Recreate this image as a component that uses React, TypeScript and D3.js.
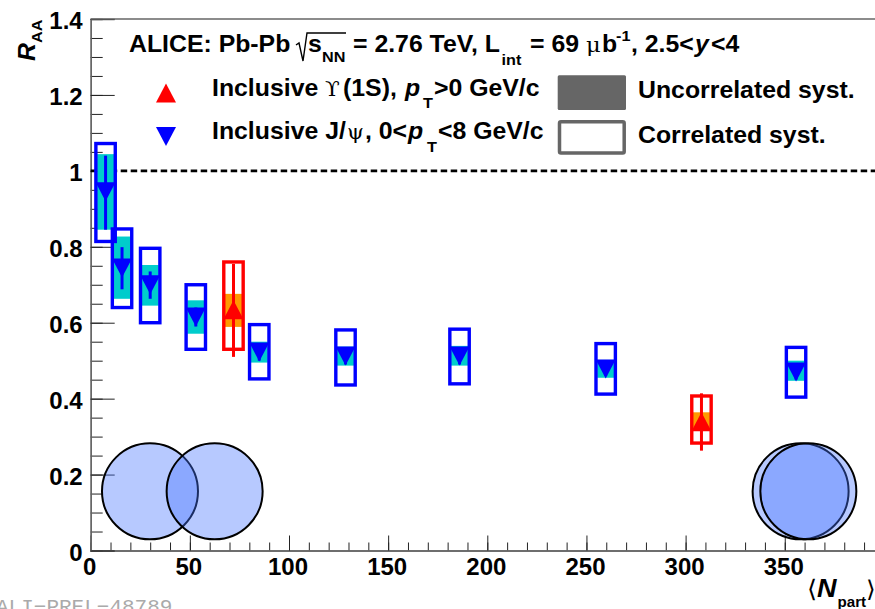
import React, { useEffect, useRef } from "react";
import * as d3 from "d3";

const width = 875;
const height = 609;

const jpsiNpart = [7.5, 15.8, 30, 53, 85, 128.5, 186, 259.7, 355.7];
const jpsiRaa = [0.945, 0.744, 0.7, 0.615, 0.523, 0.512, 0.512, 0.478, 0.47];
const jpsiErrLow = [0.845, 0.688, 0.663, 0.59, 0.5, 0.49, 0.49, 0.46, 0.45];
const jpsiErrHigh = [1.04, 0.799, 0.735, 0.64, 0.545, 0.535, 0.535, 0.5, 0.49];
const jpsiUncorrLow = [0.845, 0.663, 0.645, 0.571, 0.495, 0.487, 0.487, 0.455, 0.447];
const jpsiUncorrHigh = [1.044, 0.827, 0.752, 0.659, 0.55, 0.537, 0.539, 0.502, 0.5];
const jpsiCorrLow = [0.814, 0.64, 0.6, 0.53, 0.452, 0.436, 0.439, 0.412, 0.404];
const jpsiCorrHigh = [1.072, 0.847, 0.796, 0.7, 0.595, 0.581, 0.583, 0.545, 0.535];

const upsNpart = [72, 308];
const upsRaa = [0.634, 0.339];
const upsErrLow = [0.51, 0.263];
const upsErrHigh = [0.755, 0.414];
const upsUncorrLow = [0.589, 0.317];
const upsUncorrHigh = [0.676, 0.364];
const upsCorrLow = [0.53, 0.283];
const upsCorrHigh = [0.76, 0.407];

// the little nuclei drawn in the corners, in axis units
const nucleiX = [29.9, 62.5, 358, 361.9];
const nucleiY = 0.156;

const x = d3.scaleLinear().domain([0, 400]).range([90.7, 883.9]);
const y = d3.scaleLinear().domain([0, 1.4]).range([550.5, 19]);

const sans = "'Liberation Sans', Arial, sans-serif";
const serif = "'DejaVu Serif', 'Liberation Serif', serif";

// the reference type is a bit wider than Liberation at this height
const T = ({ at, base, size = 23, it, font = sans, weight = "bold", children }: any) => (
  <text transform={`translate(${at},${base}) scale(1.08,1)`} fontSize={size} fontStyle={it ? "italic" : "normal"} fontFamily={font} fontWeight={weight} fill="#000">
    {children}
  </text>
);

// ROOT style triangle, centred on its box rather than its centroid
const triangleType = {
  draw(ctx: any) {
    ctx.moveTo(0, -9.5);
    ctx.lineTo(10, 9.5);
    ctx.lineTo(-10, 9.5);
    ctx.closePath();
  },
};
const triangle = d3.symbol().type(triangleType as any);
const Marker = ({ cx, cy, down, color }: any) => (
  <path d={triangle() as string} transform={`translate(${cx},${cy}) ${down ? "rotate(180)" : ""}`} fill={color} />
);

function Series({ np, raa, lo, hi, uLo, uHi, cLo, cHi, box, fill, down }: any) {
  return (
    <g>
      {np.map((d: number, i: number) => (
        <rect key={i} x={x(d) - 8.5} width={17} y={y(uHi[i])} height={y(uLo[i]) - y(uHi[i])} fill={fill} />
      ))}
      {np.map((d: number, i: number) => (
        <line key={i} x1={x(d)} x2={x(d)} y1={y(lo[i])} y2={y(hi[i])} stroke={box} strokeWidth={3} />
      ))}
      {np.map((d: number, i: number) => (
        <Marker key={i} cx={x(d)} cy={y(raa[i])} down={down} color={box} />
      ))}
      {np.map((d: number, i: number) => (
        <rect key={i} x={x(d) - 9.7} width={19.4} y={y(cHi[i])} height={y(cLo[i]) - y(cHi[i])} fill="none" stroke={box} strokeWidth={3.4} />
      ))}
    </g>
  );
}

export default function App() {
  const axesRef = useRef<SVGGElement>(null);

  useEffect(() => {
    const g = d3.select(axesRef.current);
    g.selectAll("*").remove();

    const xMinor = d3.axisBottom(x).ticks(40).tickSize(-8).tickFormat(() => "");
    const xMajor = d3.axisBottom(x).tickValues(d3.range(0, 351, 50)).tickSize(-15).tickFormat(d3.format("d") as any).tickPadding(7);
    const yMinor = d3.axisLeft(y).tickValues(d3.range(0, 1.401, 0.05)).tickSize(-12).tickFormat(() => "");
    const yMajor = d3.axisLeft(y).tickValues(d3.range(0, 1.401, 0.2)).tickSize(-24).tickFormat(d3.format("~g") as any).tickPadding(8);

    const bottom = g.append("g").attr("transform", `translate(0,${y(0)})`);
    bottom.append("g").call(xMinor);
    const xLabels = bottom.append("g").call(xMajor);
    const left = g.append("g").attr("transform", `translate(${x(0)},0)`);
    left.append("g").call(yMinor);
    const yLabels = left.append("g").call(yMajor);

    g.append("line").attr("x1", x(0)).attr("x2", width).attr("y1", y(1.4)).attr("y2", y(1.4));
    g.selectAll(".domain").attr("stroke", "#666").attr("stroke-width", 1.4);
    g.selectAll("g.tick line").attr("stroke", "#222").attr("stroke-width", 1);
    g.selectAll(":scope > line").attr("stroke", "#666").attr("stroke-width", 1.4);
    g.selectAll("text")
      .attr("font-family", sans)
      .attr("font-size", 24)
      .attr("font-weight", "bold")
      .attr("fill", "#000");
    xLabels.selectAll("text").attr("dx", -1.5);
    yLabels.selectAll("text").attr("dy", "0.4em");
  }, []);

  return (
    <svg width={width} height={height} style={{ position: "absolute", left: 0, top: 0, background: "#fff" }}>
      <g ref={axesRef} />

      <line x1={x(0)} x2={width} y1={y(1)} y2={y(1)} stroke="#000" strokeWidth={2.8} strokeDasharray="6.5 3.5" />

      {nucleiX.map((d, i) => (
        <circle key={i} cx={x(d)} cy={y(nucleiY)} r={48} fill="rgb(70,117,255)" fillOpacity={0.39} stroke="#000" strokeWidth={2} />
      ))}

      <Series np={jpsiNpart} raa={jpsiRaa} lo={jpsiErrLow} hi={jpsiErrHigh} uLo={jpsiUncorrLow} uHi={jpsiUncorrHigh} cLo={jpsiCorrLow} cHi={jpsiCorrHigh} box="#0000ff" fill="#00cccc" down />
      <Series np={upsNpart} raa={upsRaa} lo={upsErrLow} hi={upsErrHigh} uLo={upsUncorrLow} uHi={upsUncorrHigh} cLo={upsCorrLow} cHi={upsCorrHigh} box="#ff0000" fill="#ff9900" />

      {/* header line */}
      <T at={129} base={51.5}>ALICE: Pb-Pb</T>
      <path d="M296 45 L299 43 L303 61 L307 33 L346 33" fill="none" stroke="#000" strokeWidth={1.4} />
      <T at={308} base={51.5}>s</T>
      <T at={322} base={61.5} size={15}>NN</T>
      <T at={353} base={51.5}>= 2.76 TeV, L</T>
      <T at={501.5} base={65} size={15}>int</T>
      <T at={530} base={51.5}>= 69</T>
      <T at={586} base={51.5} font={serif} weight="normal" size={21}>μ</T>
      <T at={602} base={51.5}>b</T>
      <T at={616} base={41} size={15}>-1</T>
      <T at={631} base={51.5}>, 2.5&lt;</T>
      <T at={695} base={51.5} it>y</T>
      <T at={711} base={51.5}>&lt;4</T>

      {/* legend */}
      <Marker cx={166} cy={93} color="#ff0000" />
      <Marker cx={166} cy={136.5} down color="#0000ff" />
      <T at={212} base={95.5}>Inclusive</T>
      <T at={325} base={95.5} font={serif} weight="normal" size={20}>ϒ</T>
      <T at={343} base={95.5}>(1S),</T>
      <T at={405} base={95.5} it>p</T>
      <T at={423} base={108} size={15}>T</T>
      <T at={434} base={95.5}>&gt;0 GeV/c</T>
      <T at={212} base={138.5}>Inclusive J/</T>
      <T at={347} base={138.5} font={serif} weight="normal" size={20}>ψ</T>
      <T at={365} base={138.5}>, 0&lt;</T>
      <T at={408} base={138.5} it>p</T>
      <T at={427} base={152} size={15}>T</T>
      <T at={438} base={138.5}>&lt;8 GeV/c</T>

      <rect x={557.7} y={75.3} width={68.3} height={34.7} rx={1.5} fill="#666" />
      <rect x={559.5} y={121.8} width={64.7} height={31.1} rx={1.5} fill="#fff" stroke="#666" strokeWidth={3.5} />
      <T at={638} base={98}>Uncorrelated syst.</T>
      <T at={638} base={142.5}>Correlated syst.</T>

      {/* axis titles */}
      <g transform="translate(35,61) rotate(-90)">
        <T at={0} base={0} it>R</T>
      </g>
      <g transform="translate(42,43) rotate(-90)">
        <T at={0} base={0} size={15}>AA</T>
      </g>
      <T at={807} base={597} font="'DejaVu Sans', sans-serif" weight="normal" size={24}>⟨</T>
      <T at={817} base={597} it size={25}>N</T>
      <T at={837.5} base={606.5} size={14}>part</T>
      <T at={866} base={597} font="'DejaVu Sans', sans-serif" weight="normal" size={23}>⟩</T>

      <text x={-4} y={613} fontFamily="'Liberation Mono', monospace" fontSize={21} fill="#aaa">ALI−PREL−48789</text>
    </svg>
  );
}
